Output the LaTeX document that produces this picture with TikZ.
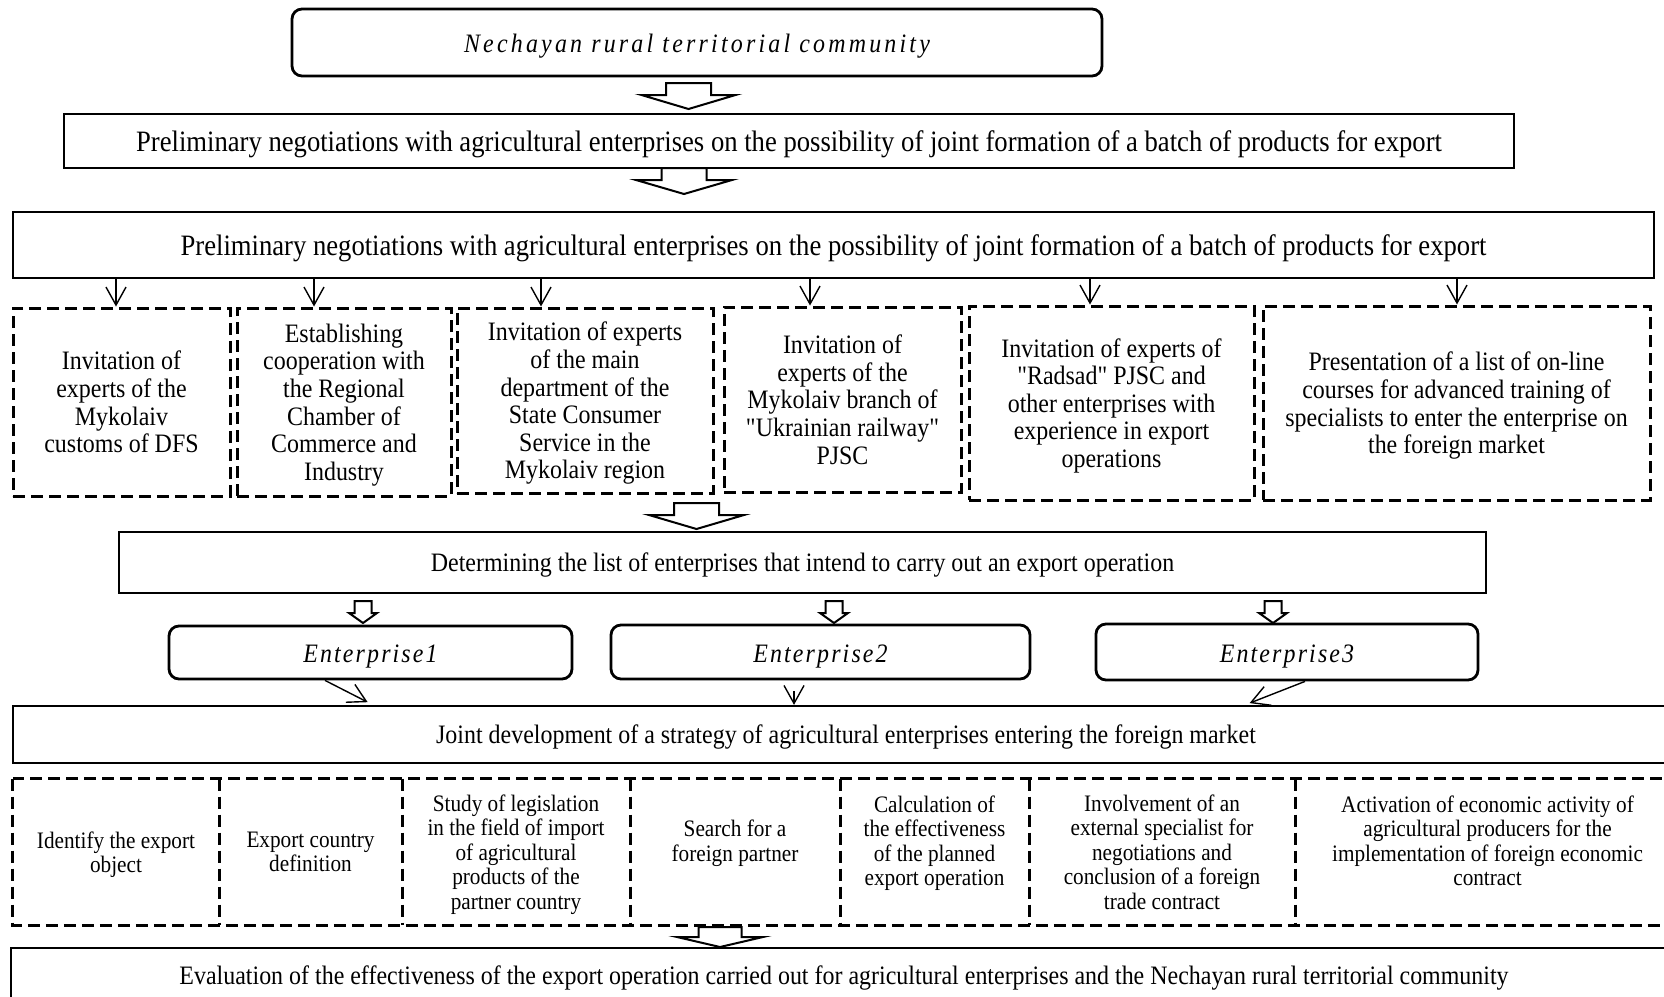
\documentclass[tikz,border=0pt]{standalone}
\usepackage{fontspec}
\setmainfont{Liberation Serif}[FakeStretch=0.9, Ligatures=TeXOff]
\usetikzlibrary{arrows.meta}

% hollow block arrow: x, shaft width, head width, top, head base, tip
\newcommand{\fatarrow}[6]{%
  \draw[fatarrow] ({#1-#2/2},#4) -- ({#1+#2/2},#4) -- ({#1+#2/2},#5) -- ({#1+#3/2},#5)
    -- (#1,#6) -- ({#1-#3/2},#5) -- ({#1-#2/2},#5) -- cycle;}

\tikzset{
  roundbox/.style={draw, line width=1.4pt, rounded corners=5pt, inner sep=0pt},
  plainbox/.style={draw, line width=1.1pt, inner sep=0pt, text depth=0pt},
  dashline/.style={line width=1.5pt, dash pattern=on 6pt off 3pt},
  cell/.style={inner sep=0pt, align=center, text depth=0pt},
  dashbox/.style={draw, dashline, cell},
  sz/.style 2 args={minimum width=#1*0.5pt, minimum height=#2*0.5pt},
  spaced/.style={font=\fontsize{13.3}{15}\selectfont\itshape\addfontfeatures{LetterSpace=#1}},
  bigfont/.style={font=\fontsize{14.8}{16}\selectfont},
  linefont/.style={font=\fontsize{13.3}{15}\selectfont},
  rowone/.style={font=\fontsize{13.3}{13.8}\selectfont},
  rowtwo/.style={font=\fontsize{11.8}{12.2}\selectfont},
  raised/.style={text depth=11.5pt},
  thinarrow/.style={-{Straight Barb[length=9pt,width=10pt]}, line width=0.7pt},
  fatarrow/.style={draw, fill=white, line width=1pt, line join=miter}
}

\begin{document}
\begin{tikzpicture}[x=0.5pt, y=-0.5pt]
  \useasboundingbox (0,0) rectangle (1664,996);

  \node[roundbox, sz={810}{67}, spaced=12, text height=13pt] (top) at (697,42.5) {Nechayan rural territorial community};
  \fatarrow{688.5}{45}{94}{83}{95}{109}
  \node[plainbox, sz={1450}{54}, bigfont] (neg1) at (789,141)
    {Preliminary negotiations with agricultural enterprises on the possibility of joint formation of a batch of products for export};
  \fatarrow{684}{45}{96}{168}{180}{194}
  \node[plainbox, sz={1641}{66}, bigfont] (neg2) at (833.5,245)
    {Preliminary negotiations with agricultural enterprises on the possibility of joint formation of a batch of products for export};

  % experts row
  \node[dashbox, rowone, sz={217}{188}] (exp1) at (121.5,402) {Invitation of\\experts of the\\Mykolaiv\\customs of DFS};
  \node[dashbox, rowone, sz={214}{188}] (exp2) at (344,402) {Establishing\\cooperation with\\the Regional\\Chamber of\\Commerce and\\Industry};
  \node[dashbox, rowone, sz={256}{185}] (exp3) at (585,400.5) {Invitation of experts\\of the main\\department of the\\State Consumer\\Service in the\\Mykolaiv region};
  \node[dashbox, rowone, sz={237}{185}] (exp4) at (842.5,399.5) {Invitation of\\experts of the\\Mykolaiv branch of\\"Ukrainian railway"\\PJSC};
  \node[dashbox, rowone, sz={285}{194}] (exp5) at (1111.5,403) {Invitation of experts of\\"Radsad" PJSC and\\other enterprises with\\experience in export\\operations};
  \node[dashbox, rowone, sz={387}{194}] (exp6) at (1456.5,403) {Presentation of a list of on-line\\courses for advanced training of\\specialists to enter the enterprise on\\the foreign market};
  \foreach \x/\n in {116/exp1, 314/exp2, 541/exp3, 810/exp4, 1090/exp5, 1457/exp6}
    \draw[thinarrow] (\x,0 |- neg2.south) -- (\x,0 |- \n.north);

  \fatarrow{696.5}{45}{95}{503}{515}{529}
  \node[plainbox, sz={1367}{61}, linefont] (list) at (802.5,562.5)
    {Determining the list of enterprises that intend to carry out an export operation};
  \fatarrow{363}{17}{28}{601}{613}{623}
  \fatarrow{834}{17}{28}{601}{613}{623}
  \fatarrow{1273}{17}{28}{601}{613}{623}

  \node[roundbox, sz={403}{53}, spaced=8, text height=13pt] (ent1) at (370.5,652.5) {Enterprise1};
  \node[roundbox, sz={419}{54}, spaced=8, text height=13pt] (ent2) at (820.5,652) {Enterprise2};
  \node[roundbox, sz={382}{56}, spaced=8, text height=13pt] (ent3) at (1287,652) {Enterprise3};

  \node[plainbox, sz={1666}{57}, linefont] (joint) at (846,734.5)
    {Joint development of a strategy of agricultural enterprises entering the foreign market};
  \draw[thinarrow, shorten >=3pt] (325,0 |- ent1.south) -- (373,0 |- joint.north);
  \draw[thinarrow, shorten <=5.5pt] (794,0 |- ent2.south) -- (794,0 |- joint.north);
  \draw[thinarrow, shorten >=2.5pt] (1305,0 |- ent3.south) -- (1245,0 |- joint.north);

  % strategy row (cells share their dashed borders)
  \node[cell, rowtwo, sz={206}{146}] (step1) at (116,852) {Identify the export\\object};
  \node[cell, rowtwo, sz={183}{146}] (step2) at (310.5,852) {Export country\\definition};
  \node[cell, rowtwo, sz={228}{146}] (step3) at (516,852) {Study of legislation\\in the field of import\\of agricultural\\products of the\\partner country};
  \node[cell, rowtwo, raised, sz={210}{146}] (step4) at (735,852) {Search for a\\foreign partner};
  \node[cell, rowtwo, raised, sz={189}{146}] (step5) at (934.5,852) {Calculation of\\the effectiveness\\of the planned\\export operation};
  \node[cell, rowtwo, sz={266}{146}] (step6) at (1162,852) {Involvement of an\\external specialist for\\negotiations and\\conclusion of a foreign\\trade contract};
  \node[cell, rowtwo, raised, sz={385}{146}] (step7) at (1487.5,852) {Activation of economic activity of\\agricultural producers for the\\implementation of foreign economic\\contract};
  \draw[dashline] (step1.north west) rectangle (step7.south east);
  \foreach \n in {step1, step2, step3, step4, step5, step6}
    \draw[dashline] (\n.north east) -- (\n.south east);

  \fatarrow{720}{43}{86}{927}{937}{947}
  \node[plainbox, sz={1666}{54}, linefont] (eval) at (844,975)
    {Evaluation of the effectiveness of the export operation carried out for agricultural enterprises and the Nechayan rural territorial community};
\end{tikzpicture}
\end{document}
